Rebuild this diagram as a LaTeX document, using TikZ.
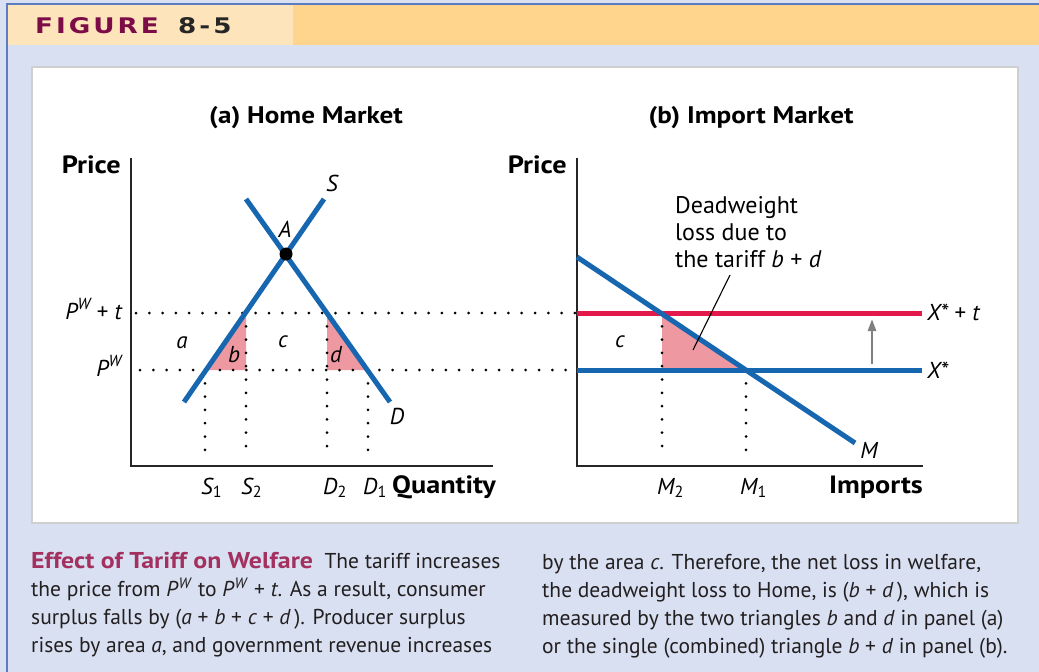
\documentclass[tikz,border=0pt]{standalone}
\usepackage{fontspec}
\setmainfont{PT Sans}
\newfontfamily\hdrfont[FakeStretch=1.22, LetterSpace=14]{DejaVu Sans}
\newfontfamily\boldlbl[FakeStretch=1.13]{PT Sans}
\usetikzlibrary{arrows.meta,decorations.markings}
\definecolor{curveblue}{RGB}{22,102,176}
\definecolor{tariffred}{RGB}{227,24,75}
\definecolor{dwpink}{RGB}{238,152,162}
\definecolor{hdrlight}{RGB}{254,228,187}
\definecolor{hdrdark}{RGB}{255,213,142}
\definecolor{bodyblue}{RGB}{216,224,242}
\definecolor{frameblue}{RGB}{91,125,192}
\definecolor{panelgray}{RGB}{207,207,207}
\definecolor{figmaroon}{RGB}{123,12,71}
\definecolor{captitle}{RGB}{163,48,95}
\definecolor{captext}{RGB}{35,31,32}
\newcommand\PW{\textit{P}\textsuperscript{\textit{W}}}
\begin{document}
\begin{tikzpicture}[x=1pt,y=-1pt,
  curve/.style={line width=5pt, draw=curveblue},
  axisline/.style={line width=1.8pt, draw=black!85},
  dotline/.style={draw=none, postaction={decorate},
    decoration={markings, mark=between positions 0 and 1 step 13.3pt with {\fill[black] (0,0) circle (1.5pt);}}},
  lbl/.style={font=\fontsize{23}{27}\selectfont\itshape, inner sep=0pt},
  axlbl/.style={font=\boldlbl\bfseries\fontsize{25}{30}\selectfont, inner sep=0pt},
  ttl/.style={font=\boldlbl\bfseries\fontsize{24}{30}\selectfont, inner sep=0pt},
  captxt/.style={font=\fontsize{21.5}{28}\selectfont, text=captext, inner sep=0pt, anchor=base west},
  dwtxt/.style={font=\fontsize{24}{27}\selectfont, inner sep=0pt, anchor=base west},
  pinkfill/.style={fill=dwpink, draw=none}
]
\useasboundingbox (0,0) rectangle (1039,672);
% background and frame
\fill[bodyblue] (0,0) rectangle (1039,672);
\fill[hdrlight] (7,5) rectangle (293,45);
\fill[hdrdark] (293,5) rectangle (1039,45);
\draw[frameblue, line width=2.5pt] (7,672) -- (7,4) -- (1039,4);
\fill[white] (32,67) rectangle (1018,523);
\draw[panelgray, line width=2.5pt] (32,67) rectangle (1018,523);
% header
\node[inner sep=0pt, anchor=base west, font=\hdrfont\bfseries\fontsize{21.5}{24}\selectfont, text=figmaroon] (fig) at (35,33) {FIGURE};
\node[inner sep=0pt, anchor=base west, font=\hdrfont\bfseries\fontsize{21.5}{24}\selectfont, text=black!85] (fignum) at (178,33) {8-5};
% titles
\node[ttl, anchor=base] (ta) at (306,123) {(a) Home Market};
\node[ttl, anchor=base] (tb) at (751,123) {(b) Import Market};

% ---------- panel (a)
\coordinate (aO) at (131,466);
\coordinate (aTop) at (131,158);
\coordinate (aRight) at (493,466);
\coordinate (Sbot) at (184,402);
\coordinate (Stop) at (324,199);
\coordinate (Dtop) at (246,199);
\coordinate (Dbot) at (390,402);
\coordinate (s1) at (205,370);
\coordinate (s2) at (246,313);
\coordinate (s2b) at (246,370);
\coordinate (d2) at (327,313);
\coordinate (d2b) at (327,370);
\coordinate (d1) at (368,370);
\coordinate (s1ax) at (205,459);
\coordinate (s2ax) at (246,459);
\coordinate (d2ax) at (327,459);
\coordinate (d1ax) at (368,459);
\coordinate (hiL) at (136,313);
\coordinate (loL) at (140,370);
\coordinate (hiR) at (575,313);
\coordinate (loR) at (575,370);

\fill[pinkfill] (s1) -- (s2) -- (s2b) -- cycle;
\fill[pinkfill] (d2) -- (d1) -- (d2b) -- cycle;

\path[dotline] (hiL) -- (hiR);
\path[dotline] (loL) -- (loR);
\path[dotline] (s1) -- (s1ax);
\path[dotline] (s2) -- (s2ax);
\path[dotline] (d2) -- (d2ax);
\path[dotline] (d1) -- (d1ax);

\draw[axisline] (aTop) -- (aO) -- (aRight);
\draw[curve] (Sbot) -- (Stop);
\draw[curve] (Dtop) -- (Dbot);
\node[circle, fill=black, minimum size=13pt, inner sep=0pt] (A) at (286,254) {};

\node[axlbl, anchor=base east] (pa) at (121,173) {Price};
\node[axlbl, anchor=base west] (qa) at (392,493) {Quantity};
\node[lbl] (Slab) at (332,183) {S};
\node[lbl] (Alab) at (285,229) {A};
\node[lbl] (Dlab) at (397,416) {D};
\node[lbl] (la) at (182,343) {a};
\node[lbl] (lb) at (234,355) {b};
\node[lbl] (lc) at (283,342) {c};
\node[lbl] (ld) at (336,355) {d};
\node[lbl, anchor=base east] (pwt) at (122,319) {\PW\ \upshape+ \itshape t};
\node[lbl, anchor=base east] (pw) at (122,376) {\PW};
\node[lbl, anchor=base west] (S1) at (201,494) {S\textsubscript{\upshape 1}};
\node[lbl, anchor=base west] (S2) at (241,494) {S\textsubscript{\upshape 2}};
\node[lbl, anchor=base west] (D2) at (323,494) {D\textsubscript{\upshape 2}};
\node[lbl, anchor=base west] (D1) at (363,494) {D\textsubscript{\upshape 1}};

% ---------- panel (b)
\coordinate (bO) at (577,466);
\coordinate (bTop) at (577,158);
\coordinate (bRight) at (923,466);
\coordinate (Mtop) at (577,257);
\coordinate (Mbot) at (855,443);
\coordinate (xtL) at (577,313);
\coordinate (xtR) at (922,313);
\coordinate (xL) at (577,370);
\coordinate (xR) at (922,370);
\coordinate (m2) at (662,313);
\coordinate (m2b) at (662,370);
\coordinate (m1) at (746,370);
\coordinate (m2ax) at (662,459);
\coordinate (m1ax) at (746,459);
\coordinate (arrBot) at (872,364);
\coordinate (arrTop) at (872,319);
\coordinate (leadStart) at (730,275);
\coordinate (leadEnd) at (693,350);

\fill[pinkfill] (m2) -- (m1) -- (m2b) -- cycle;
\path[dotline] (m2) -- (m2ax);
\path[dotline] (m1) -- (m1ax);
\draw[axisline] (bTop) -- (bO) -- (bRight);
\draw[line width=5pt, draw=tariffred] (xtL) -- (xtR);
\draw[curve] (xL) -- (xR);
\draw[curve] (Mtop) -- (Mbot);
\draw[line width=2.6pt, draw=black!50, -{Triangle[length=12pt,width=8pt]}] (arrBot) -- (arrTop);
\draw[line width=1.1pt] (leadStart) -- (leadEnd);

\node[axlbl, anchor=base east] (pb) at (567,173) {Price};
\node[axlbl, anchor=base east] (ib) at (923,493) {Imports};
\node[lbl] (cb) at (620,342) {c};
\node[lbl] (Mlab) at (869,450) {M};
\node[lbl, anchor=base west] (xst) at (927,320) {X*\ \upshape+ \itshape t};
\node[lbl, anchor=base west] (xs) at (927,378) {X*};
\node[lbl, anchor=base west] (M2) at (657,494) {M\textsubscript{\upshape 2}};
\node[lbl, anchor=base west] (M1) at (740,494) {M\textsubscript{\upshape 1}};
\node[dwtxt] (dw1) at (675,213) {Deadweight};
\node[dwtxt] (dw2) at (675,240) {loss due to};
\node[dwtxt] (dw3) at (675,267) {the tariff \textit{b} + \textit{d}};

% ---------- caption
\node[captxt] (c1) at (31,568) {{\boldlbl\bfseries\fontsize{22.9}{28}\selectfont\color{captitle}Effect of Tariff on Welfare}\ \ The tariff increases};
\node[captxt] (c2) at (31,596) {the price from \PW\ to \PW\ + \textit{t}. As a result, consumer};
\node[captxt] (c3) at (31,624) {surplus falls by (\textit{a} + \textit{b} + \textit{c} + \textit{d}\,). Producer surplus};
\node[captxt] (c4) at (31,652) {rises by area \textit{a}, and government revenue increases};
\node[captxt] (r1) at (542,569) {by the area \textit{c}. Therefore, the net loss in welfare,};
\node[captxt] (r2) at (542,597) {the deadweight loss to Home, is (\textit{b} + \textit{d}\,), which is};
\node[captxt] (r3) at (542,625) {measured by the two triangles \textit{b} and \textit{d} in panel (a)};
\node[captxt] (r4) at (542,653) {or the single (combined) triangle \textit{b} + \textit{d} in panel (b).};
\end{tikzpicture}
\end{document}
